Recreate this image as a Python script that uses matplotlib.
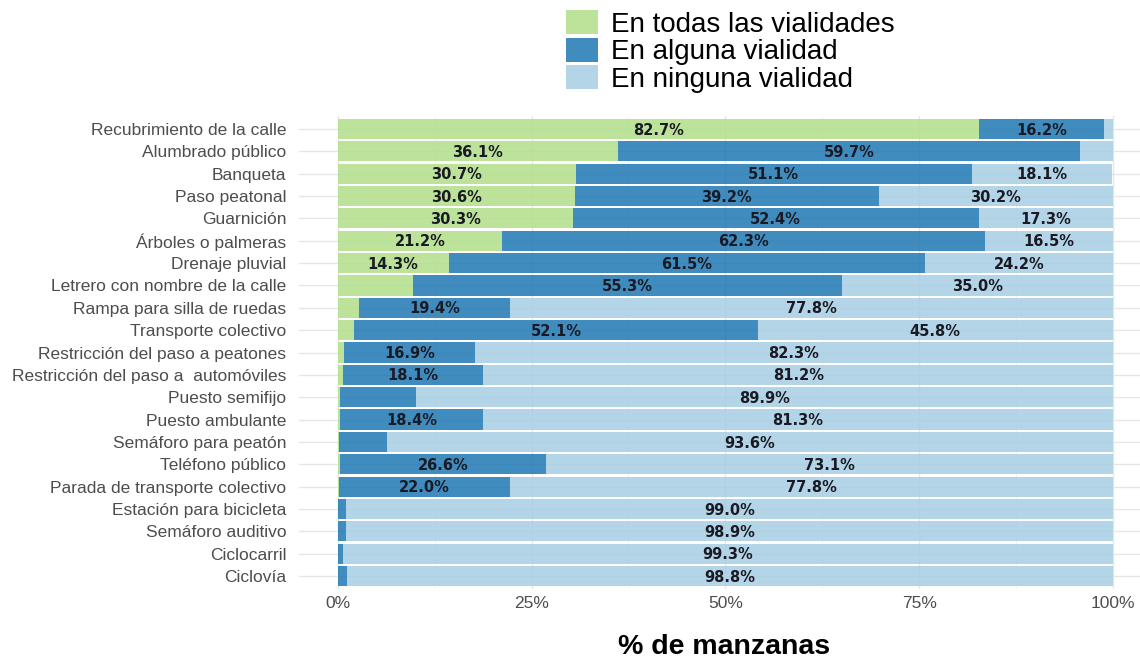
import numpy as np
import matplotlib
matplotlib.use("Agg")
import matplotlib.pyplot as plt

plt.rcParams['font.family'] = ['Liberation Sans', 'DejaVu Sans']

# datos (porcentaje de manzanas), de arriba hacia abajo
categorias = [
    "Recubrimiento de la calle", "Alumbrado público", "Banqueta", "Paso peatonal",
    "Guarnición", "Árboles o palmeras", "Drenaje pluvial",
    "Letrero con nombre de la calle", "Rampa para silla de ruedas",
    "Transporte colectivo", "Restricción del paso a peatones",
    "Restricción del paso a  automóviles", "Puesto semifijo", "Puesto ambulante",
    "Semáforo para peatón", "Teléfono público", "Parada de transporte colectivo",
    "Estación para bicicleta", "Semáforo auditivo", "Ciclocarril", "Ciclovía",
]
todas = [82.7, 36.1, 30.7, 30.6, 30.3, 21.2, 14.3, 9.7, 2.8, 2.1, 0.8, 0.7,
         0.3, 0.3, 0.1, 0.3, 0.2, 0.0, 0.0, 0.0, 0.0]
alguna = [16.2, 59.7, 51.1, 39.2, 52.4, 62.3, 61.5, 55.3, 19.4, 52.1, 16.9, 18.1,
          9.8, 18.4, 6.3, 26.6, 22.0, 1.0, 1.1, 0.7, 1.2]
ninguna = [1.1, 4.2, 18.1, 30.2, 17.3, 16.5, 24.2, 35.0, 77.8, 45.8, 82.3, 81.2,
           89.9, 81.3, 93.6, 73.1, 77.8, 99.0, 98.9, 99.3, 98.8]
series = ["En todas las vialidades", "En alguna vialidad", "En ninguna vialidad"]
colores = ["#B2DF8A", "#1F78B4", "#A6CEE3"]   # Paired

fig = plt.figure(figsize=(11.4, 6.61), dpi=100)
ax = fig.add_axes([299 / 1140, 71.6 / 661, 841 / 1140, 473.8 / 661])

y = np.arange(len(categorias))
izq = np.zeros(len(categorias))
for vals, nombre, col in zip([todas, alguna, ninguna], series, colores):
    v = np.array(vals) / 100
    ax.barh(y, v, left=izq, height=0.9, color=col, alpha=0.85, label=nombre,
            linewidth=0, zorder=2)
    for yi, l, w in zip(y, izq, v):
        if w >= 0.12:
            ax.text(l + w / 2, yi + 0.05, f"{w*100:.1f}%", ha="center", va="center",
                    fontsize=10.5, fontweight="bold", color="#1a1a24", zorder=3,
                    family="DejaVu Sans")
    izq = izq + v

ax.set_xlim(-0.05, 1.035)
ax.set_ylim(-0.6, len(categorias) - 0.4)
ax.invert_yaxis()
ax.set_yticks(y)
ax.set_yticklabels(categorias)
ax.set_xticks([0, 0.25, 0.5, 0.75, 1.0])
ax.set_xticklabels(["0%", "25%", "50%", "75%", "100%"])
ax.set_xticks([0.125, 0.375, 0.625, 0.875], minor=True)
ax.tick_params(axis="both", which="both", length=0, colors="#4d4d4d", labelsize=12.5)
ax.tick_params(axis="y", pad=9)
ax.tick_params(axis="x", pad=5)
ax.grid(True, which="major", color="#e6e6e6", linewidth=1.0, zorder=0)
ax.grid(True, which="minor", axis="x", color="#f0f0f0", linewidth=0.6, zorder=0)
ax.set_axisbelow(True)
for s in ax.spines.values():
    s.set_visible(False)

ax.set_xlabel("% de manzanas", fontsize=20.5, fontweight="bold")
ax.xaxis.set_label_coords(0.505, -0.122)
ax.xaxis.label.set_va("center")

fig.legend(loc="upper left", bbox_to_anchor=(547 / 1140, 1.014), frameon=False,
           fontsize=20, handlelength=1.15, handleheight=0.95, labelspacing=0.0,
           handletextpad=0.45, borderaxespad=0.3)

fig.savefig("out.png", dpi=100)
